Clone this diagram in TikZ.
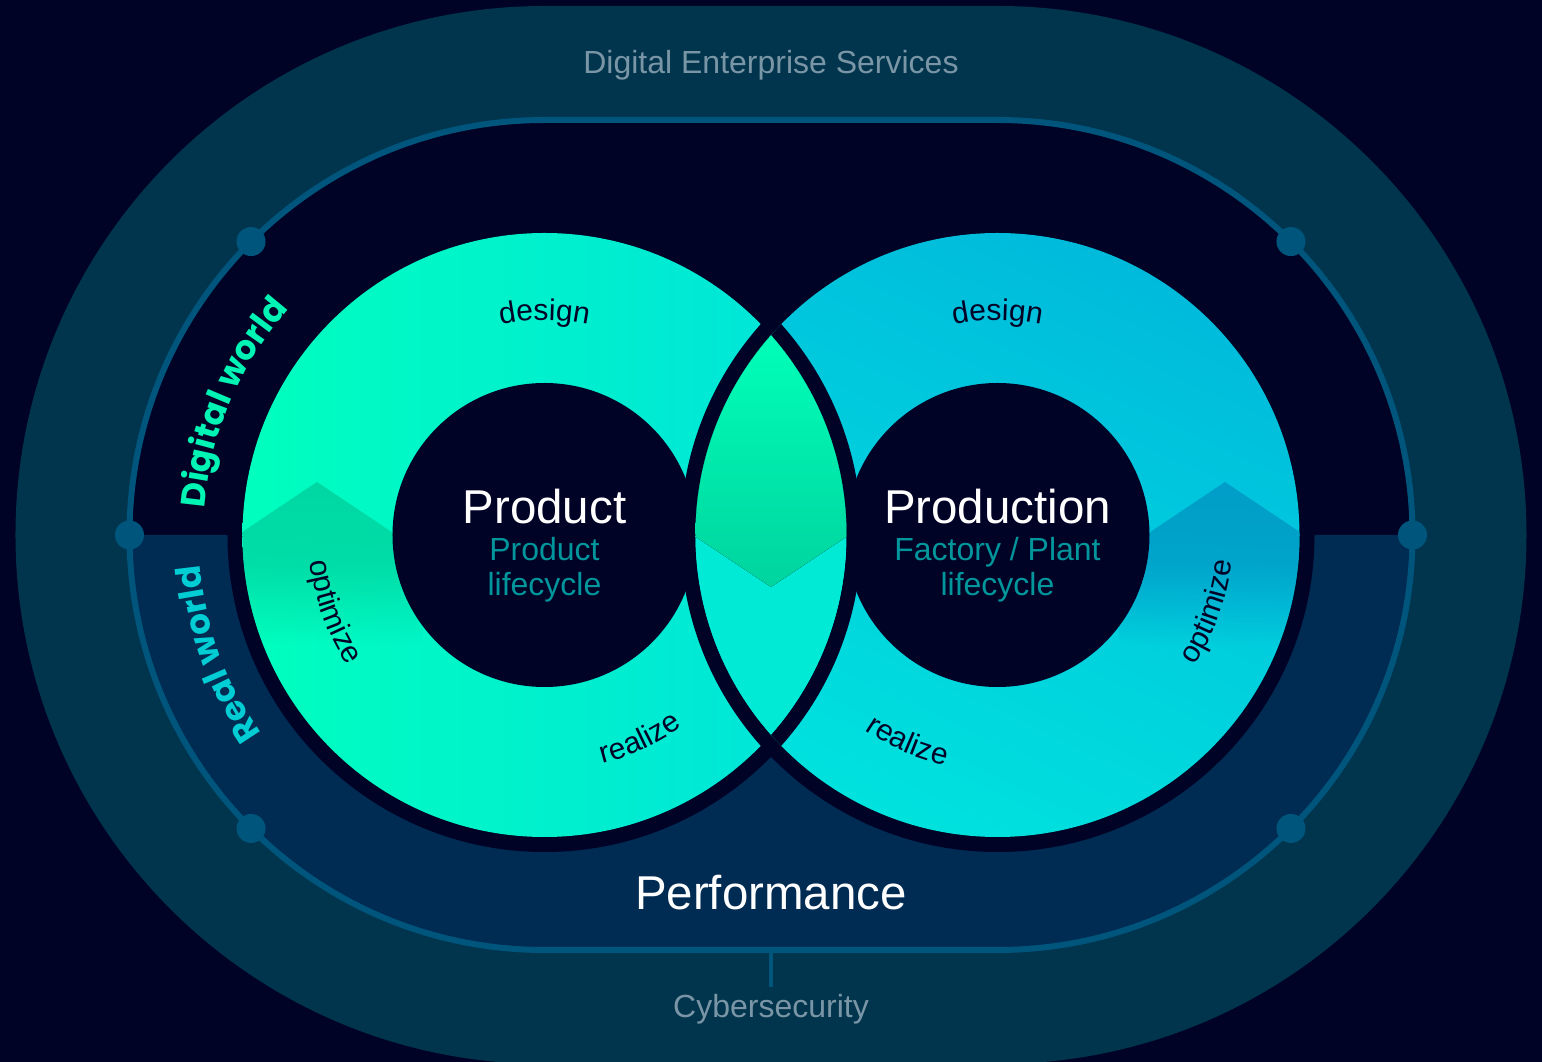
\documentclass[tikz,border=0pt]{standalone}
\usepackage{fontspec}
\setmainfont{Liberation Sans}
\newfontfamily\worldfont{Poppins}
\usetikzlibrary{decorations.text,fadings}
\definecolor{bg_navy}{RGB}{0, 2, 38}
\definecolor{des_teal}{RGB}{0, 53, 77}
\definecolor{perf_navy}{RGB}{0, 43, 82}
\definecolor{ring_line}{RGB}{0, 85, 125}
\definecolor{grey_txt}{RGB}{122, 150, 166}
\definecolor{sub_teal}{RGB}{0, 150, 156}
\definecolor{lring_a}{RGB}{0, 255, 190}
\definecolor{lring_b}{RGB}{0, 226, 220}
\definecolor{lchev}{RGB}{0, 216, 163}
\definecolor{rring_a}{RGB}{0, 186, 220}
\definecolor{rring_b}{RGB}{0, 226, 222}
\definecolor{rchev}{RGB}{0, 158, 200}
\definecolor{lens_top}{RGB}{0, 255, 185}
\definecolor{lens_bot}{RGB}{0, 212, 158}
\definecolor{lens_low}{RGB}{0, 234, 214}
\definecolor{dw_green}{RGB}{0, 245, 180}
\definecolor{rw_cyan}{RGB}{0, 205, 212}
\newcommand\ringfont{\fontsize{22.5pt}{27pt}\selectfont}
\newcommand\wfont{\worldfont\bfseries\fontsize{25.5pt}{30pt}\selectfont}
\tikzfading[name=chevfade, top color=transparent!0, bottom color=transparent!100, middle color=transparent!15]
\tikzstyle{jn}=[circle,fill=ring_line,inner sep=0pt,minimum size=21.75pt]
\tikzstyle{title}=[anchor=base,text=white,inner sep=0pt,font=\fontsize{35.6pt}{40pt}\selectfont]
\tikzstyle{sub}=[anchor=base,text=sub_teal,inner sep=0pt,font=\fontsize{24pt}{28pt}\selectfont]
\tikzstyle{outer}=[anchor=base,text=grey_txt,inner sep=0pt,font=\fontsize{24pt}{28pt}\selectfont]
\tikzstyle{ringlabel}=[decorate,decoration={text along path,text align=center,text color=bg_navy}]
\tikzstyle{worldlabel}=[decorate,decoration={text along path,text align=center}]

\begin{document}
\begin{tikzpicture}[x=0.75pt,y=0.75pt]
    \useasboundingbox (-771,-527) rectangle (771,535);
    \fill[bg_navy] (-771,-527) rectangle (771,535);
    \coordinate (lc) at (-226.5,0);
    \coordinate (rc) at (226.5,0);
    \fill[des_teal] (-226.5,529) -- (226.5,529) arc[start angle=90,end angle=-90,radius=529]
        -- (-226.5,-529) arc[start angle=270,end angle=90,radius=529] -- cycle;
    \fill[bg_navy] (-226.5,415) -- (226.5,415) arc[start angle=90,end angle=-90,radius=415]
        -- (-226.5,-415) arc[start angle=270,end angle=90,radius=415] -- cycle;
    \fill[perf_navy] (-641.5,0) -- (641.5,0) arc[start angle=0,end angle=-90,radius=415]
        -- (-226.5,-415) arc[start angle=270,end angle=180,radius=415] -- cycle;
    \draw[ring_line,line width=4.5pt] (-226.5,415) -- (226.5,415) arc[start angle=90,end angle=-90,radius=415]
        -- (-226.5,-415) arc[start angle=270,end angle=90,radius=415] -- cycle;
    \path (lc) ++(135:415) node[jn] (dig_l) {};
    \path (lc) ++(180:415) node[jn] (mid_l) {};
    \path (lc) ++(225:415) node[jn] (real_l) {};
    \path (rc) ++(45:415) node[jn] (dig_r) {};
    \path (rc) ++(0:415) node[jn] (mid_r) {};
    \path (rc) ++(-45:415) node[jn] (real_r) {};
    \coordinate (perf_b) at (0,-415);
    \coordinate (cyb_t) at (0,-452);
    \draw[ring_line,line width=3pt] (perf_b) -- (cyb_t);

    \fill[bg_navy] (lc) circle (317);
    \fill[left color=lring_a,right color=lring_b] (lc) circle (302);
    \begin{scope}
        \clip (lc) circle (302);
        \fill[lchev,path fading=chevfade] (-560,-18) -- (-454,53) -- (-348,-18) -- (-348,-110) -- (-560,-110) -- cycle;
    \end{scope}
    \fill[bg_navy] (lc) circle (152);

    \fill[bg_navy] (rc) circle (317);
    \fill[top color=rring_a,bottom color=rring_b,shading angle=-25] (rc) circle (302);
    \begin{scope}
        \clip (rc) circle (302);
        \fill[rchev,path fading=chevfade] (560,-18) -- (454,53) -- (348,-18) -- (348,-110) -- (560,-110) -- cycle;
    \end{scope}
    \fill[bg_navy] (rc) circle (152);
    \begin{scope}
        \clip (rc) circle (302);
        \draw[bg_navy,line width=11.25pt] (lc) circle (309.5);
    \end{scope}

    \begin{scope}
        \clip (lc) circle (302);
        \clip (rc) circle (302);
        \fill[lens_low] (-80,-210) rectangle (80,210);
        \fill[top color=lens_top,bottom color=lens_bot] (-120,28) -- (0,-52) -- (120,28) -- (120,200) -- (-120,200) -- cycle;
    \end{scope}

    \path[ringlabel,decoration={text={|\ringfont|design}}] (lc) ++(110:215) arc[start angle=110,end angle=70,radius=215];
    \path[ringlabel,decoration={text={|\ringfont|optimize}}] (lc) ++(175:236) arc[start angle=175,end angle=225,radius=236];
    \path[ringlabel,decoration={text={|\ringfont|realize}}] (lc) ++(270:236) arc[start angle=270,end angle=320,radius=236];
    \path[ringlabel,decoration={text={|\ringfont|design}}] (rc) ++(110:215) arc[start angle=110,end angle=70,radius=215];
    \path[ringlabel,decoration={text={|\ringfont|realize}}] (rc) ++(221.5:236) arc[start angle=221.5,end angle=271.5,radius=236];
    \path[ringlabel,decoration={text={|\ringfont|optimize}}] (rc) ++(315:236) arc[start angle=315,end angle=365,radius=236];
    \path[worldlabel,decoration={text color=dw_green,text={|\wfont|Digital world}}] (lc) ++(197:341) arc[start angle=197,end angle=117,radius=341];
    \path[worldlabel,decoration={text color=rw_cyan,text={|\wfont|Real world}}] (lc) ++(240:346) arc[start angle=240,end angle=160,radius=346];

    \node[title] (prod) at (-226.5,11) {Product};
    \node[sub] (prod_s1) at (-226.5,-26) {Product};
    \node[sub] (prod_s2) at (-226.5,-61) {lifecycle};
    \node[title] (prodn) at (226.5,11) {Production};
    \node[sub] (prodn_s1) at (226.5,-26) {Factory / Plant};
    \node[sub] (prodn_s2) at (226.5,-61) {lifecycle};
    \node[title] (perf) at (0,-375) {Performance};
    \node[outer] (des) at (0,461) {Digital Enterprise Services};
    \node[outer] (cyb) at (0,-482) {Cybersecurity};
\end{tikzpicture}
\end{document}
